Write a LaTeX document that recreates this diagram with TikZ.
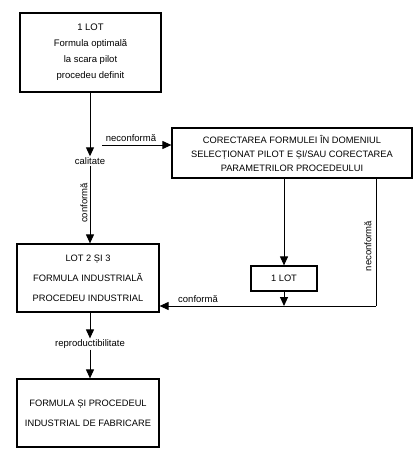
\documentclass[tikz,border=0pt]{standalone}
\usepackage{fontspec}
\setmainfont{Liberation Sans}
\usetikzlibrary{arrows.meta,calc}
\begin{document}
\begin{tikzpicture}[x=1pt,y=-1pt,
  box/.style={draw,line width=1.2pt,inner sep=0pt,align=center},
  lbl/.style={font=\fontsize{9.5}{11}\selectfont,inner sep=1pt},
  conn/.style={line width=1pt},
  arr/.style={conn,-{Triangle[length=9pt,width=8pt]}}]
\useasboundingbox (0,0) rectangle (413,460);
\node[box,minimum width=141pt,minimum height=79pt,font=\fontsize{9.5}{16}\selectfont] (b1) at (90.5,52.5)
  {1 LOT\\Formula optimală\\la scara pilot\\procedeu definit};
\node[box,minimum width=240pt,minimum height=50pt,font=\fontsize{9.3}{14}\selectfont] (rb) at (292,153)
  {CORECTAREA FORMULEI ÎN DOMENIUL\\SELECȚIONAT PILOT E ȘI/SAU CORECTAREA\\PARAMETRILOR PROCEDEULUI};
\node[box,minimum width=142pt,minimum height=68pt,font=\fontsize{9.3}{20}\selectfont] (b2) at (88,278)
  {LOT 2 ȘI 3\\FORMULA INDUSTRIALĂ\\PROCEDEU INDUSTRIAL};
\node[box,minimum width=66pt,minimum height=25pt,font=\fontsize{9.3}{11}\selectfont] (lot) at (284,278.5) {1 LOT};
\node[box,minimum width=142pt,minimum height=68pt,font=\fontsize{9.3}{20}\selectfont] (b3) at (88,413)
  {FORMULA ȘI PROCEDEUL\\INDUSTRIAL DE FABRICARE};
\node[lbl] (cal) at (90,161) {calitate};
\node[lbl] (rep) at (90,344) {reproductibilitate};
\coordinate (ns) at (102,145);
\coordinate (j1) at (284,306);
\coordinate (c1) at (376,178);
\coordinate (c2) at (376,306);
% labels
\node[lbl,rotate=90] (lconf) at (84,203) {conformă};
\node[lbl,rotate=90] (lnec) at (368,246) {neconformă};
\node[lbl] (tnec) at (131,138) {neconformă};
\node[lbl] (tconf) at (198,299) {conformă};
% connectors
\draw[arr] (b1.south -| cal) -- (cal.north);
\draw[arr] (ns) -- (ns -| rb.west);
\draw[arr] (cal.south) -- (b2.north -| cal);
\draw[arr] (rb.south -| lot) -- (lot.north);
\draw[arr] (lot.south) -- (j1);
\draw[conn] (c1) -- (c2);
\draw[arr] (c2) -- (c2 -| b2.east);
\draw[arr] (b2.south -| rep) -- (rep.north);
\draw[arr] (rep.south) -- (b3.north -| rep);
\end{tikzpicture}
\end{document}
